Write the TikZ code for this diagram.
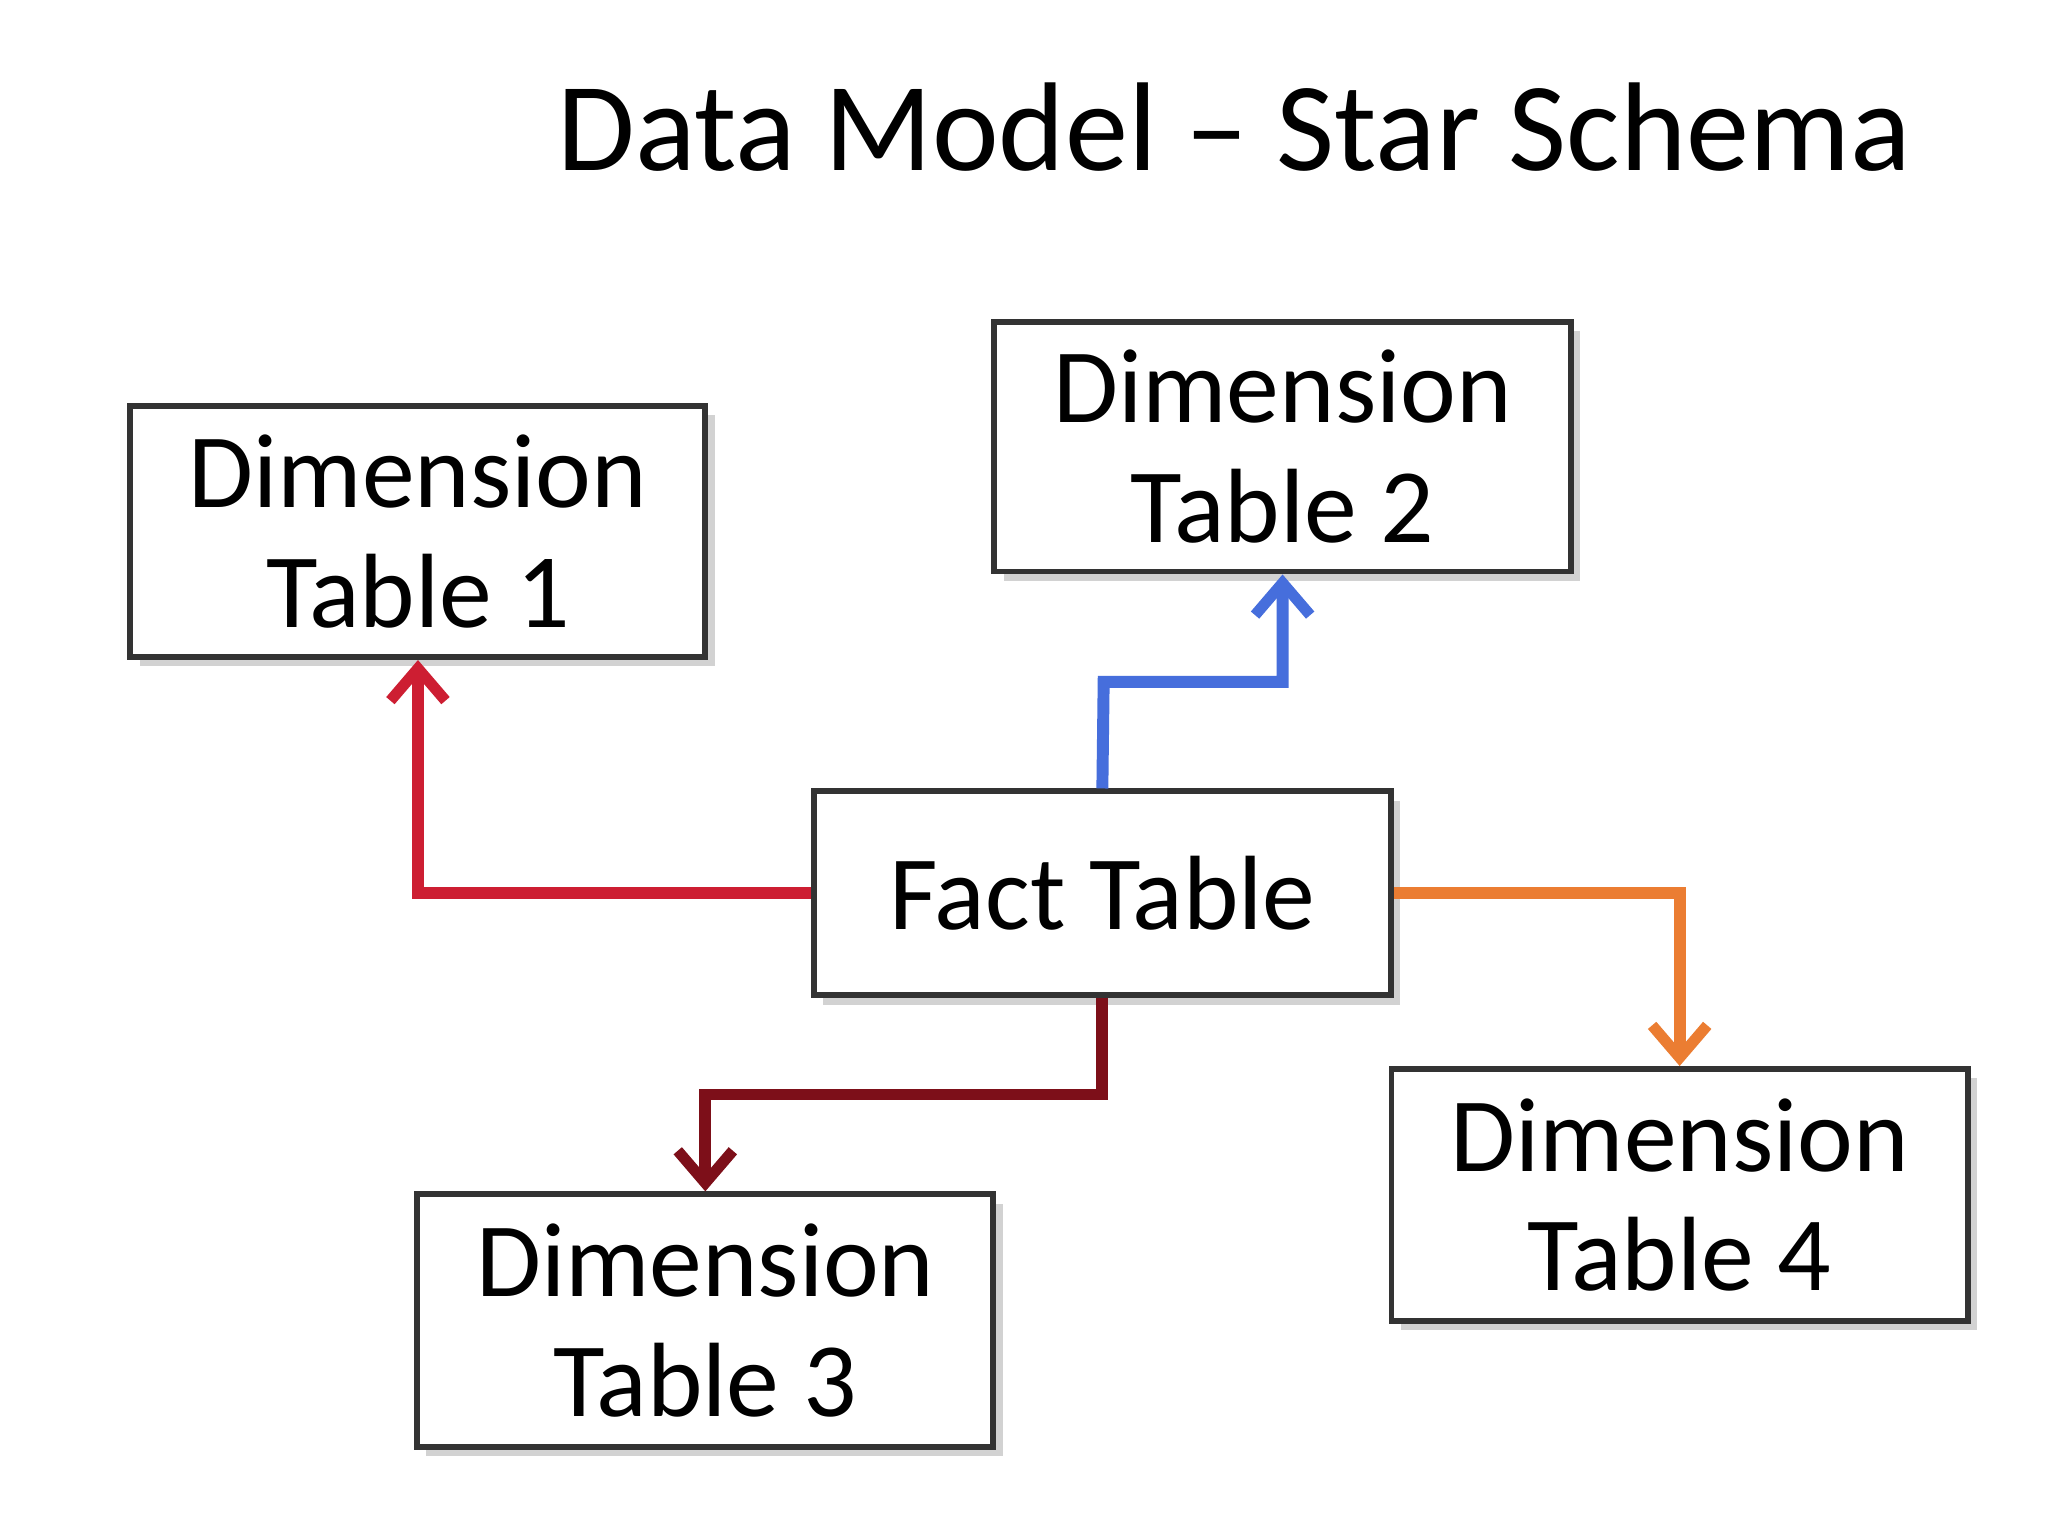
\documentclass[tikz,border=0pt]{standalone}
\usepackage{fontspec}
\setmainfont{Carlito}
\usetikzlibrary{arrows.meta,shadows}
\begin{document}
\begin{tikzpicture}[x=0.01cm,y=-0.01cm,
  tbl/.style={draw=black!80,line width=1.3pt,fill=white,align=center,font=\fontsize{23}{26}\selectfont,
    drop shadow={shadow xshift=2pt,shadow yshift=-2pt,opacity=0.35}},
  conn/.style={line width=2.6pt,-{Straight Barb[length=7pt,width=12pt,line width=2.4pt]}}]
\useasboundingbox[fill=white] (0,0) rectangle (1568,1176);
\node[font=\fontsize{27.5}{34}\selectfont] (title) at (945,97) {Data Model – Star Schema};
\node[tbl,minimum width=4.4cm,minimum height=1.92cm] (d1) at (320,407) {Dimension\\Table 1};
\node[tbl,minimum width=4.41cm,minimum height=1.91cm] (d2) at (982,342) {Dimension\\Table 2};
\node[tbl,minimum width=4.42cm,minimum height=1.56cm] (f) at (844,684) {Fact Table};
\node[tbl,minimum width=4.41cm,minimum height=1.93cm] (d3) at (540,1011) {Dimension\\Table 3};
\node[tbl,minimum width=4.41cm,minimum height=1.93cm] (d4) at (1286,915) {Dimension\\Table 4};
\draw[conn,color={rgb,255:red,205;green,30;blue,50}] (f.west) -| (d1.south);
\draw[conn,color={rgb,255:red,70;green,110;blue,220}] (f.north) -- (845,522) -| (d2.south);
\draw[conn,color={rgb,255:red,125;green,15;blue,25}] (f.south) -- (844,838) -| (d3.north);
\draw[conn,color={rgb,255:red,235;green,125;blue,50}] (f.east) -| (d4.north);
\end{tikzpicture}
\end{document}
